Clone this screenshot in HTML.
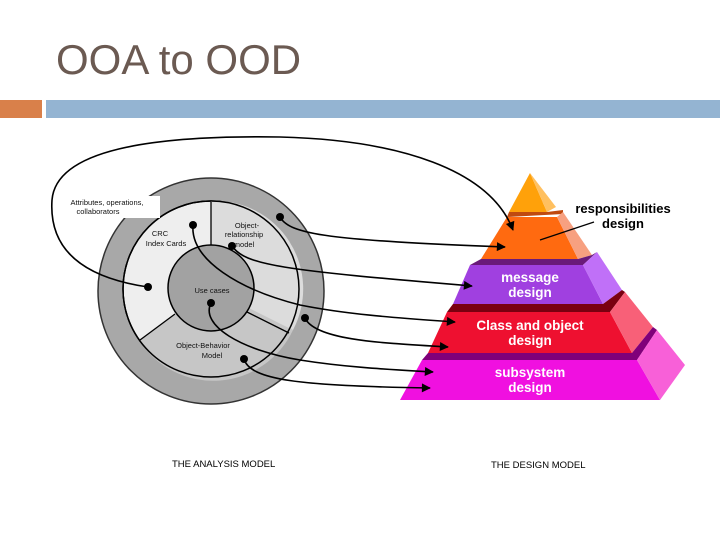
<!DOCTYPE html>
<html><head><meta charset="utf-8"><style>
html,body{margin:0;padding:0;background:#fff;width:720px;height:540px;overflow:hidden}
svg{display:block}
</style></head><body>
<svg width="720" height="540" viewBox="0 0 720 540" xmlns="http://www.w3.org/2000/svg" font-family="Liberation Sans, Arial, sans-serif">
<defs><marker id="a" viewBox="0 0 10 10" refX="9" refY="5" markerWidth="7" markerHeight="5" orient="auto" markerUnits="userSpaceOnUse"><path d="M0,0 L10,5 L0,10 z" fill="#000"/></marker>
<marker id="b" viewBox="0 0 10 10" refX="9" refY="5" markerWidth="14" markerHeight="9" orient="auto" markerUnits="userSpaceOnUse"><path d="M0,0 L10,5 L0,10 z" fill="#000"/></marker></defs>
<text x="56" y="74" font-size="42" fill="#6b5a52">OOA to OOD</text>
<rect x="0" y="100" width="42" height="18" fill="#d9804a"/>
<rect x="46" y="100" width="674" height="18" fill="#94b4d2"/>

<!-- circles -->
<circle cx="211" cy="291" r="113" fill="#a8a8a8" stroke="#333" stroke-width="1.5"/>
<circle cx="211" cy="289" r="88" fill="#eeeeee" stroke="#000" stroke-width="1.5"/>
<path d="M211,289 L211,201 A88,88 0 0 1 293,330 Z" fill="#dcdcdc"/>
<path d="M211,289 L293,330 A88,88 0 0 1 139,340 Z" fill="#c6c6c6"/>
<circle cx="211" cy="289" r="88" fill="none" stroke="#000" stroke-width="1.5"/>
<line x1="211" y1="246" x2="211" y2="202" stroke="#000" stroke-width="1.3"/>
<line x1="175" y1="314" x2="140" y2="340" stroke="#000" stroke-width="1.3"/>
<line x1="247" y1="312" x2="289" y2="333" stroke="#000" stroke-width="1.3"/>
<circle cx="211" cy="288" r="43" fill="#a2a2a2" stroke="#000" stroke-width="1.5"/>
<rect x="55" y="196" width="105" height="22" fill="#fff"/>
<g font-size="7.5" fill="#111" text-anchor="middle">
<text x="107" y="205">Attributes, operations,</text>
<text x="98" y="214">collaborators</text>
<text x="160" y="236">CRC</text>
<text x="166" y="246">Index Cards</text>
<text x="247" y="228">Object-</text>
<text x="244" y="237">relationship</text>
<text x="244" y="247">model</text>
<text x="212" y="293">Use cases</text>
<text x="203" y="348">Object-Behavior</text>
<text x="212" y="358">Model</text>
</g>

<!-- pyramid -->
<polygon points="530,173 509,212 547,212" fill="#ffa10a"/>
<polygon points="530,173 547,212 556,207" fill="#ffc060"/>
<polygon points="509,212 547,212 563,210 563,214 507,217" fill="#c04a10"/>
<polygon points="507,217 557,217 578,259 481,259" fill="#ff6a10"/>
<polygon points="557,217 563,212 592,255 578,259" fill="#f7a080"/>
<polygon points="481,259 578,259 592,255 597,252 583,265 470,265" fill="#6a1a7a"/>
<polygon points="470,265 583,265 603,304 453,304" fill="#a040e0"/>
<polygon points="583,265 597,252 622,290 603,304" fill="#c070f8"/>
<polygon points="453,304 603,304 622,290 625,292 610,312 447,312" fill="#7a0010"/>
<polygon points="447,312 610,312 632,353 428,353" fill="#ee1030"/>
<polygon points="610,312 625,292 653,327 632,353" fill="#f86078"/>
<polygon points="428,353 632,353 653,327 657,330 637,360 422,360" fill="#80007a"/>
<polygon points="422,360 637,360 660,400 400,400" fill="#f010e0"/>
<polygon points="637,360 657,330 685,365 660,400" fill="#f860d8"/>
<g font-weight="bold" text-anchor="middle" fill="#fff" font-size="13.5">
<text x="530" y="282">message</text><text x="530" y="297">design</text>
<text x="530" y="330">Class and object</text><text x="530" y="345">design</text>
<text x="530" y="377">subsystem</text><text x="530" y="392">design</text>
</g>
<g font-weight="bold" text-anchor="middle" fill="#000" font-size="13">
<text x="623" y="213">responsibilities</text><text x="623" y="228">design</text>
</g>
<line x1="594" y1="222" x2="540" y2="240" stroke="#000" stroke-width="1.2"/>

<!-- connectors -->
<g fill="none" stroke="#000" stroke-width="1.6">
<path d="M148,287 C100,280 48,260 52,200 C56,150 150,135 280,137 C400,140 490,170 513,230" marker-end="url(#b)"/>
<path d="M280,217 C290,235 330,240 505,247" marker-end="url(#b)"/>
<path d="M232,246 C245,265 280,270 472,286" marker-end="url(#b)"/>
<path d="M193,225 C190,260 240,290 300,305 C350,315 400,318 455,322" marker-end="url(#b)"/>
<path d="M305,318 C315,340 380,343 448,347" marker-end="url(#b)"/>
<path d="M211,303 C200,325 240,350 300,360 C350,368 400,370 433,372" marker-end="url(#b)"/>
<path d="M244,359 C250,380 300,386 430,388" marker-end="url(#b)"/>
</g>
<g fill="#000">
<circle cx="148" cy="287" r="4"/><circle cx="280" cy="217" r="4"/><circle cx="232" cy="246" r="4"/>
<circle cx="193" cy="225" r="4"/><circle cx="305" cy="318" r="4"/><circle cx="211" cy="303" r="4"/>
<circle cx="244" cy="359" r="4"/>
</g>
<g font-size="9.5" fill="#000">
<text x="172" y="467">THE ANALYSIS MODEL</text>
<text x="491" y="468">THE DESIGN MODEL</text>
</g>
</svg>
</body></html>
